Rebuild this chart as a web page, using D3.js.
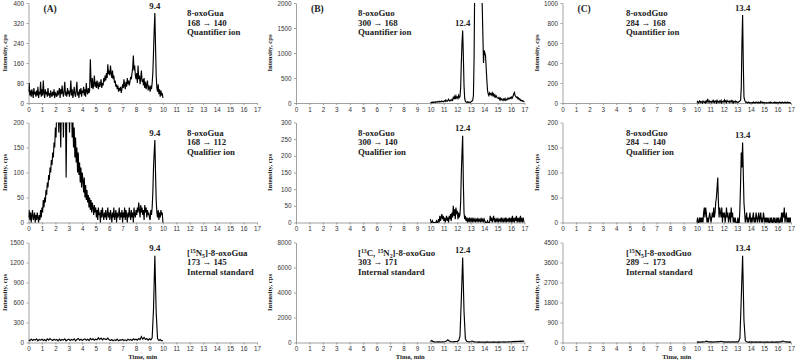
<!DOCTYPE html>
<html>
<head>
<meta charset="utf-8">
<script src="https://cdn.jsdelivr.net/npm/d3@7"></script>
<style>
  body { margin: 0; background: #fff; }
  svg { display: block; font-family: "Liberation Serif", "Times New Roman", serif; }
  .axis path, .axis line { stroke: #8a8a8a; stroke-width: 0.8; }
  .axis text { fill: #333; font-size: 6.3px; }
</style>
</head>
<body>
<div id="chart"></div>
<script>
// time axis (min)
const timeTicks = [0, 1, 2, 3, 4, 5, 6, 7, 8, 9, 10, 11, 12, 13, 14, 15, 16, 17];

// (A) 8-oxoGua, sampled every 0.05 min from 0 min
const oxoGuaQuant = [
  45, 80, 30, 50, 25, 55, 40, 20, 60, 35, 45, 25, 50, 30, 65, 20, 45, 35, 85, 25, 55,
  30, 90, 40, 20, 55, 35, 45, 25, 60, 30, 40, 20, 50, 35, 25, 45, 30, 55, 20, 40,
  35, 25, 50, 30, 45, 60, 20, 55, 35, 70, 40, 25, 50, 85, 30, 45, 25, 60, 35, 50,
  25, 45, 90, 30, 55, 20, 40, 65, 35, 25, 50, 85, 30, 45, 20, 55, 35, 60, 25, 50,
  40, 65, 30, 55, 25, 80, 45, 35, 60, 40, 50, 175, 90, 60, 100, 55, 75, 110, 65, 85,
  60, 90, 70, 55, 85, 65, 75, 95, 60, 80, 70, 100, 85, 110, 90, 120, 100, 155, 115, 130,
  110, 150, 120, 100, 130, 95, 110, 80, 90, 65, 75, 55, 70, 45, 60, 50, 65, 40, 55, 75,
  60, 95, 70, 55, 85, 65, 100, 75, 90, 70, 85, 105, 95, 120, 140, 190, 130, 150, 110, 95,
  120, 80, 150, 95, 110, 75, 100, 130, 85, 95, 70, 100, 60, 85, 55, 75, 90, 50, 70, 60,
  45, 70, 55, 80, 120, 200, 290, 360, 230, 110, 60, 45, 75, 35, 55, 25, 50, 30, 40, 20
];
const oxoGuaQual = [
  10, 25, 5, 20, 0, 15, 25, 5, 10, 20, 0, 15, 5, 20, 10, 0, 15, 5, 25, 10, 30,
  20, 45, 30, 50, 40, 65, 55, 80, 70, 95, 85, 110, 100, 125, 115, 140, 130, 160, 150, 190,
  170, 230, 200, 260, 180, 240, 210, 150, 250, 200, 230, 170, 260, 210, 240, 90, 220, 250, 200, 240,
  180, 230, 200, 250, 170, 210, 150, 190, 130, 170, 120, 150, 100, 140, 95, 120, 80, 110, 70, 100,
  85, 60, 90, 50, 75, 45, 65, 40, 55, 30, 50, 25, 45, 20, 40, 30, 15, 35, 20, 30,
  10, 25, 5, 30, 15, 20, 0, 25, 10, 30, 15, 5, 20, 10, 25, 5, 15, 30, 10, 20,
  5, 25, 15, 0, 20, 10, 30, 5, 15, 25, 0, 20, 10, 15, 30, 5, 20, 10, 25, 0,
  20, 10, 30, 5, 25, 15, 0, 20, 10, 30, 15, 5, 25, 10, 20, 0, 30, 15, 10, 25,
  15, 30, 20, 40, 25, 10, 35, 20, 30, 15, 25, 5, 35, 20, 30, 10, 25, 15, 20, 10,
  5, 25, 15, 30, 60, 110, 140, 165, 100, 45, 20, 10, 25, 5, 20, 10, 25, 15, 20, 0
];
// sampled every 0.1 min from 0 min
const oxoGuaIS = [
  40, 25, 50, 30, 45, 35, 55, 25, 45, 35,
  50, 30, 45, 25, 55, 35, 60, 40, 30, 50,
  35, 45, 25, 50, 30, 45, 35, 55, 25, 40,
  50, 30, 45, 35, 55, 25, 45, 60, 35, 50,
  30, 45, 55, 35, 50, 30, 60, 40, 55, 35,
  50, 40, 70, 45, 65, 40, 60, 50, 45, 65,
  40, 30, 45, 25, 40, 30, 50, 25, 40, 35,
  45, 30, 40, 25, 50, 35, 45, 30, 55, 40,
  50, 35, 60, 45, 90, 50, 75, 45, 60, 35,
  55, 40, 70, 500, 1300, 450, 60, 30, 45, 25, 30
];

// (B) 8-oxoGuo, sampled every 0.05 min from 10 min
const oxoGuoQuant = [
  10, 5, 15, 10, 20, 10, 15, 25, 15, 20, 30, 20, 25, 35, 20, 30, 25, 40, 30, 25, 35,
  45, 30, 60, 40, 35, 55, 75, 45, 40, 60, 50, 70, 55, 110, 90, 130, 80, 140, 100, 120,
  90, 150, 110, 130, 300, 800, 1200, 1450, 950, 350, 90, 30, 20, 15, 25, 10, 20, 15, 10, 20,
  30, 40, 60, 150, 900, 2500, 3000, 3000, 3000, 3000, 3000, 3000, 3000, 3000, 3000, 2800, 2000, 1400, 800, 1050,
  1000, 950, 700, 450, 250, 180, 150, 200, 170, 190, 160, 200, 150, 180, 130, 160, 120, 140, 110, 100,
  90, 110, 70, 95, 60, 85, 70, 50, 80, 60, 90, 55, 75, 65, 95, 80, 100, 85, 110, 90,
  120, 100, 140, 180, 210, 150, 130, 110, 120, 90, 100, 70, 80, 50, 60, 40, 50, 30, 35, 20
];
const oxoGuoQual = [
  10, 0, 0, 5, 0, 0, 0, 0, 0, 5, 0, 0, 10, 0, 20, 5, 15, 25, 10, 20, 5,
  15, 0, 10, 20, 5, 15, 0, 20, 10, 25, 5, 30, 15, 50, 20, 40, 10, 45, 25, 35,
  10, 30, 15, 25, 60, 150, 210, 260, 120, 30, 10, 20, 5, 15, 0, 10, 5, 15, 0, 10,
  5, 15, 0, 10, 5, 10, 0, 10, 5, 10, 0, 10, 5, 10, 0, 10, 5, 10, 0, 10,
  5, 0, 0, 0, 5, 0, 0, 0, 20, 5, 15, 0, 10, 20, 5, 10, 0, 10, 5, 10,
  0, 10, 5, 10, 0, 15, 5, 10, 0, 10, 5, 15, 0, 10, 5, 10, 0, 15, 5, 10,
  0, 20, 5, 10, 0, 15, 5, 20, 0, 10, 5, 15, 0, 20, 5, 10, 0, 15, 5, 0
];
// sampled every 0.1 min from 10 min
const oxoGuoIS = [
  80, 160, 70, 50, 40, 55, 45, 60, 40, 55,
  60, 80, 120, 220, 110, 70, 60, 50, 65, 80,
  90, 150, 500, 3500, 6800, 2500, 300, 100, 60, 50,
  80, 120, 70, 50, 40, 35, 45, 30, 40, 35,
  40, 30, 45, 35, 40, 30, 35, 45, 30, 40,
  35, 45, 30, 40, 50, 35, 45, 40, 55, 45,
  60, 80, 70, 90, 75, 100, 85, 110, 95, 120, 100
];

// (C) 8-oxodGuo, sampled every 0.05 min from 10 min
const oxodGuoQuant = [
  5, 15, 0, 10, 20, 5, 15, 10, 0, 20, 10, 5, 15, 0, 20, 10, 40, 15, 5, 20, 10,
  15, 5, 20, 10, 25, 5, 15, 20, 0, 25, 10, 15, 5, 20, 10, 25, 0, 15, 20, 10,
  30, 10, 20, 5, 25, 15, 10, 20, 5, 15, 25, 10, 20, 0, 15, 10, 20, 5, 15, 10,
  5, 10, 15, 20, 30, 150, 600, 880, 400, 60, 30, 15, 5, 10, 0, 5, 10, 0, 5, 0,
  0, 5, 0, 10, 0, 5, 0, 10, 5, 0, 10, 0, 5, 0, 15, 5, 10, 0, 5, 0,
  5, 0, 0, 5, 0, 0, 5, 0, 10, 0, 5, 0, 0, 5, 0, 10, 0, 5, 0, 5,
  0, 5, 10, 0, 5, 0, 10, 5, 0, 5, 10, 0, 5, 0, 10, 5, 0, 5, 0, 0
];
const oxodGuoQual = [
  0, 10, 0, 0, 10, 0, 10, 0, 10, 0, 20, 30, 10, 30, 20, 0, 10, 0, 10, 20, 10,
  0, 10, 20, 10, 30, 10, 20, 40, 50, 70, 90, 40, 10, 30, 20, 10, 30, 0, 20, 10,
  20, 0, 10, 30, 10, 20, 0, 10, 20, 0, 30, 10, 20, 0, 10, 0, 10, 0, 0, 0,
  10, 0, 0, 30, 80, 140, 110, 160, 100, 40, 20, 0, 10, 20, 0, 10, 0, 10, 20, 0,
  10, 0, 10, 20, 0, 10, 0, 20, 10, 0, 10, 20, 0, 10, 20, 0, 10, 0, 20, 10,
  0, 10, 0, 10, 0, 10, 0, 0, 10, 0, 10, 0, 0, 10, 0, 10, 0, 0, 10, 0,
  10, 0, 0, 10, 0, 20, 0, 20, 10, 30, 0, 10, 20, 0, 10, 0, 10, 0, 10, 0
];
// sampled every 0.1 min from 10 min
const oxodGuoIS = [
  20, 25, 15, 20, 30, 25, 35, 60, 40, 30,
  25, 30, 20, 35, 25, 30, 40, 35, 55, 40,
  30, 25, 20, 30, 25, 20, 30, 25, 20, 25,
  30, 40, 200, 2000, 3900, 1000, 80, 30, 20, 25,
  20, 25, 15, 20, 25, 20, 15, 25, 20, 15,
  20, 15, 25, 20, 15, 20, 25, 15, 20, 25,
  20, 25, 30, 40, 65, 45, 30, 25, 20, 25, 20
];

// acquisition start / step per trace (min), row-major A,B,C
const traceStart = [0, 10, 10, 0, 10, 10, 0, 10, 10];
const traceStep  = [0.05, 0.05, 0.05, 0.05, 0.05, 0.05, 0.1, 0.1, 0.1];

// intensity ticks (cps)
const yTicksAQuant = [0, 80, 160, 240, 320, 400];
const yTicksAQual  = [0, 50, 100, 150, 200];
const yTicksAIS    = [0, 300, 600, 900, 1200, 1500];
const yTicksBQuant = [0, 500, 1000, 1500, 2000];
const yTicksBQual  = [0, 50, 100, 150, 200, 250, 300];
const yTicksBIS    = [0, 2000, 4000, 6000, 8000];
const yTicksCQuant = [0, 200, 400, 600, 800, 1000];
const yTicksCQual  = [0, 50, 100, 150, 200];
const yTicksCIS    = [0, 900, 1800, 2700, 3600, 4500];

const panelLetters = ["(A)", "(B)", "(C)"];
const peakTimes  = [9.4, 12.4, 13.4];
const peakLabels = ["9.4", "12.4", "13.4"];

// info text: segments [text, "sup"|"sub"|""]
const infoA = [
  [[["8-oxoGua", ""]], [["168 \u2192 140", ""]], [["Quantifier ion", ""]]],
  [[["8-oxoGua", ""]], [["168 \u2192 112", ""]], [["Qualifier ion", ""]]],
  [[["[", ""], ["15", "sup"], ["N", ""], ["5", "sub"], ["]-8-oxoGua", ""]], [["173 \u2192 145", ""]], [["Internal standard", ""]]]
];
const infoB = [
  [[["8-oxoGuo", ""]], [["300 \u2192 168", ""]], [["Quantifier ion", ""]]],
  [[["8-oxoGuo", ""]], [["300 \u2192 140", ""]], [["Qualifier ion", ""]]],
  [[["[", ""], ["13", "sup"], ["C, ", ""], ["15", "sup"], ["N", ""], ["2", "sub"], ["]-8-oxoGuo", ""]], [["303 \u2192 171", ""]], [["Internal standard", ""]]]
];
const infoC = [
  [[["8-oxodGuo", ""]], [["284 \u2192 168", ""]], [["Quantifier ion", ""]]],
  [[["8-oxodGuo", ""]], [["284 \u2192 140", ""]], [["Qualifier ion", ""]]],
  [[["[", ""], ["15", "sup"], ["N", ""], ["5", "sub"], ["]-8-oxodGuo", ""]], [["289 \u2192 173", ""]], [["Internal standard", ""]]]
];

// ---- layout ----
const W = 796, H = 364;
const colLeft = [28.5, 296, 562.5];
const rowTop  = [3, 122.5, 242.5];
const plotW = 228.5, plotH = 100;
const yLabelOffset = [23.5, 26, 26];
const infoDx = [158.5, 62, 63.5];

const series = [
  oxoGuaQuant, oxoGuoQuant, oxodGuoQuant,
  oxoGuaQual,  oxoGuoQual,  oxodGuoQual,
  oxoGuaIS,    oxoGuoIS,    oxodGuoIS
];
const yTicks = [
  yTicksAQuant, yTicksBQuant, yTicksCQuant,
  yTicksAQual,  yTicksBQual,  yTicksCQual,
  yTicksAIS,    yTicksBIS,    yTicksCIS
];
const infos = [infoA, infoB, infoC];

const svg = d3.select("#chart").append("svg")
  .attr("width", W)
  .attr("height", H);

for (let i = 0; i < 9; i++) {
  const row = Math.floor(i / 3), col = i % 3;
  const left = colLeft[col], top = rowTop[row];
  const vals = series[i];
  const ticks = yTicks[i];
  const yMax = ticks[ticks.length - 1];

  const pts = vals.map((v, k) => ({ t: traceStart[i] + k * traceStep[i], v: v }));

  const x = d3.scaleLinear().domain([0, 17]).range([left, left + plotW]);
  const y = d3.scaleLinear().domain([0, yMax]).range([top + plotH, top]);

  const g = svg.append("g");

  g.append("clipPath").attr("id", "clip" + i)
    .append("rect")
    .attr("x", left).attr("y", top)
    .attr("width", plotW).attr("height", plotH + 1);

  g.append("g")
    .attr("class", "axis")
    .attr("transform", `translate(0,${top + plotH})`)
    .call(d3.axisBottom(x).tickValues(timeTicks).tickFormat(d3.format("d"))
      .tickSize(2).tickPadding(3).tickSizeOuter(0))
    .call(a => a.selectAll("text").attr("dy", "0.6em"));

  g.append("g")
    .attr("class", "axis")
    .attr("transform", `translate(${left},0)`)
    .call(d3.axisLeft(y).tickValues(ticks).tickFormat(d3.format("d"))
      .tickSize(2).tickPadding(2.5).tickSizeOuter(0));

  const line = d3.line()
    .x(d => x(d.t))
    .y(d => y(d.v));

  g.append("path")
    .datum(pts)
    .attr("clip-path", `url(#clip${i})`)
    .attr("fill", "none")
    .attr("stroke", "#000")
    .attr("stroke-width", 1.15)
    .attr("stroke-linejoin", "miter")
    .attr("d", line);

  // y axis title
  g.append("text")
    .attr("transform", `translate(${left - yLabelOffset[col]},${top + plotH / 2}) rotate(-90)`)
    .attr("text-anchor", "middle")
    .attr("dy", "0.35em")
    .attr("font-size", 6.6)
    .attr("font-weight", "bold")
    .attr("fill", "#222")
    .text("Intensity, cps");

  // peak retention time label
  const near = pts.filter(d => Math.abs(d.t - peakTimes[col]) < 0.11);
  const peakVal = Math.min(d3.max(near, d => d.v), yMax);
  g.append("text")
    .attr("x", x(peakTimes[col]))
    .attr("y", Math.max(y(peakVal) - 4.5, top + 6))
    .attr("text-anchor", "middle")
    .attr("font-size", 8.8)
    .attr("font-weight", "bold")
    .attr("fill", "#222")
    .text(peakLabels[col]);

  // analyte / transition info
  const info = infos[col][row];
  info.forEach((segs, li) => {
    const t = g.append("text")
      .attr("x", left + infoDx[col])
      .attr("y", top + 13 + li * 9.5)
      .attr("font-size", 8.8)
      .attr("font-weight", "bold")
      .attr("fill", "#222");
    let shift = 0;
    segs.forEach(([txt, kind]) => {
      const target = kind === "sup" ? -3 : kind === "sub" ? 2 : 0;
      t.append("tspan")
        .attr("dy", target - shift)
        .attr("font-size", kind ? 5.8 : 8.8)
        .text(txt);
      shift = target;
    });
  });

  if (row === 0) {
    g.append("text")
      .attr("x", left + 15)
      .attr("y", top + 8.5)
      .attr("font-size", 9.5)
      .attr("font-weight", "bold")
      .attr("fill", "#222")
      .text(panelLetters[col]);
  }
  if (row === 2) {
    g.append("text")
      .attr("x", left + plotW / 2)
      .attr("y", top + plotH + 16)
      .attr("text-anchor", "middle")
      .attr("font-size", 6.6)
      .attr("font-weight", "bold")
      .attr("fill", "#222")
      .text("Time, min");
  }
}
</script>
</body>
</html>
